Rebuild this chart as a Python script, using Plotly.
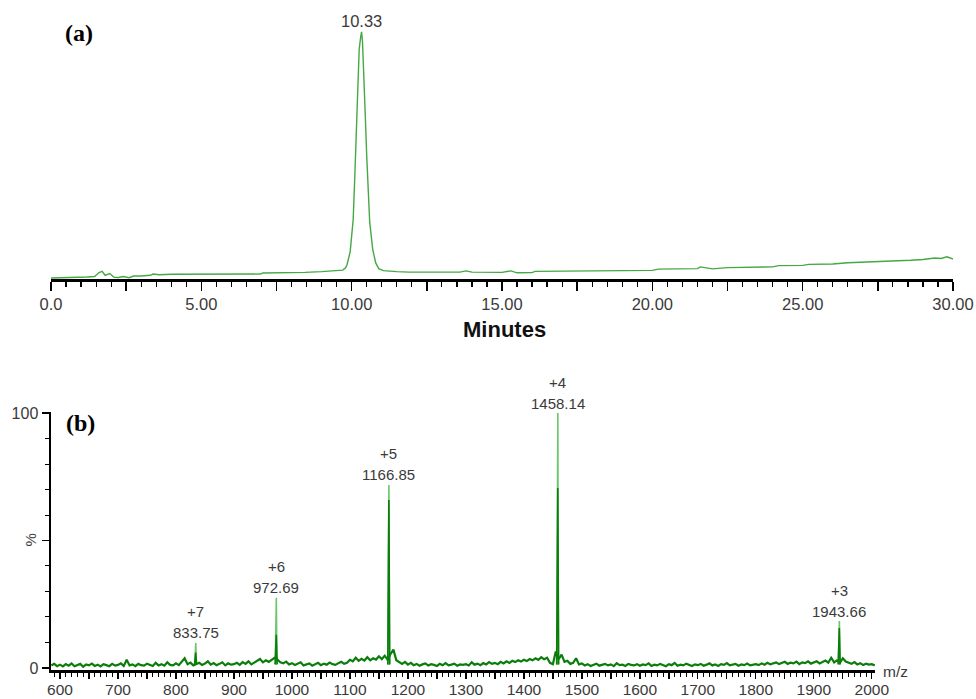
import plotly.graph_objects as go

# ---------------- (a) chromatogram ----------------
time_min = [0.0, 0.5, 1.0, 1.2, 1.45, 1.6, 1.7, 1.8, 1.95, 2.1, 2.25, 2.4, 2.6, 2.75, 3.0, 3.3, 3.4, 3.6,
            4.0, 5.0, 6.0, 6.95, 7.05, 8.0, 8.45, 9.0, 9.5, 9.7, 9.8, 9.85, 9.95, 10.05, 10.1, 10.15,
            10.2, 10.25, 10.3, 10.33, 10.36, 10.4, 10.45, 10.5, 10.55, 10.6, 10.7, 10.8, 10.9, 11.05,
            11.5, 11.9, 13.0, 13.6, 13.8, 14.0, 15.0, 15.3, 15.5, 16.0, 16.1, 17.0, 18.5, 20.0,
            20.2, 21.0, 21.5, 21.6, 22.0, 22.5, 23.0, 24.0, 24.2, 25.0, 25.2, 26.0, 26.5, 27.0,
            27.6, 28.0, 28.6, 29.0, 29.4, 29.6, 29.8, 30.0]
intensity = [0.4, 0.5, 0.6, 0.8, 1.0, 2.6, 3.1, 1.5, 2.2, 0.7, 0.6, 1.0, 0.5, 1.2, 1.2, 1.5, 2.0, 1.7,
             1.9, 1.9, 2.0, 2.0, 2.4, 2.5, 2.7, 3.0, 3.3, 3.6, 4.5, 6.0, 11.0, 24.0, 40.0, 60.0,
             80.0, 93.0, 98.0, 100.0, 96.0, 85.0, 67.0, 50.0, 35.0, 23.0, 12.0, 6.5, 4.2, 3.4,
             3.0, 2.8, 2.8, 2.8, 3.3, 2.8, 2.7, 3.3, 2.5, 2.6, 3.1, 3.2, 3.4, 3.5,
             4.0, 4.1, 4.2, 4.9, 4.1, 4.6, 4.7, 4.9, 5.4, 5.5, 5.9, 6.1, 6.6, 6.8,
             7.0, 7.4, 7.6, 7.9, 8.5, 8.3, 9.0, 8.1]
apex_time = 10.33
apex_label = "10.33"
x_ticks_a = [0, 2.5, 5, 7.5, 10, 12.5, 15, 17.5, 20, 22.5, 25, 27.5, 30]
x_text_a = ["0.0", "", "5.00", "", "10.00", "", "15.00", "", "20.00", "", "25.00", "", "30.00"]

# ---------------- (b) mass spectrum ----------------
mz_start = 585
mz_step = 5
noise_rows = [
    [1.0, 1.6, 0.7],
    [1.3, 0.6, 1.5, 0.9, 1.8, 0.7, 1.2, 1.6, 0.5, 1.4, 1.0, 1.7, 0.8, 1.3, 0.6, 1.5, 1.1, 0.7, 1.6, 0.9],
    [1.2, 1.8, 0.8, 3.2, 1.0, 1.4, 0.7, 1.6, 1.1, 0.9, 1.7, 1.3, 0.8, 2.0, 1.0, 1.5, 0.9, 2.2, 1.2, 1.0],
    [1.8, 1.1, 2.4, 3.8, 1.5, 2.1, 1.0, 1.4, 2.0, 1.2, 1.7, 2.6, 1.3, 1.9, 1.1, 1.6, 2.2, 1.0, 1.8, 1.3],
    [1.5, 2.0, 1.2, 2.3, 1.6, 2.6, 1.4, 2.1, 2.8, 3.5, 2.2, 3.0, 2.4, 3.2, 4.0, 3.3, 2.2, 1.8, 2.5, 1.4],
    [1.9, 1.2, 1.6, 2.2, 1.0, 1.5, 1.8, 0.9, 1.4, 2.0, 1.1, 1.7, 1.3, 2.1, 1.5, 1.2, 1.9, 2.4, 1.6, 2.0],
    [3.2, 2.6, 4.0, 2.8, 3.6, 2.9, 4.2, 3.0, 3.8, 3.3, 4.6, 3.5, 4.8, 3.2, 5.5, 7.2, 3.0, 2.2, 1.6, 2.4],
    [1.3, 2.0, 1.1, 1.6, 0.9, 1.4, 1.8, 1.0, 1.5, 1.2, 0.8, 1.6, 1.1, 1.9, 1.0, 1.3, 1.7, 0.9, 1.4, 1.2],
    [1.5, 1.0, 2.2, 1.3, 1.7, 1.1, 1.9, 1.4, 2.3, 1.6, 2.0, 1.5, 2.4, 1.8, 2.6, 2.0, 2.8, 2.3, 3.0, 2.5],
    [3.2, 2.7, 3.5, 3.0, 3.8, 3.2, 4.2, 3.4, 4.0, 2.0, 1.5, 6.5, 3.5, 5.2, 2.4, 2.8, 1.6, 2.0, 3.8, 1.4],
    [1.8, 1.0, 1.5, 0.8, 1.3, 1.7, 0.9, 1.2, 1.6, 1.0, 1.4, 0.7, 1.9, 1.1, 1.3, 0.8, 1.6, 1.2, 1.0, 1.5],
    [0.9, 1.4, 1.1, 1.8, 0.8, 1.3, 1.0, 1.6, 1.2, 0.7, 1.5, 1.1, 2.0, 0.9, 1.3, 1.0, 1.7, 1.2, 0.8, 1.4],
    [1.1, 1.6, 0.9, 1.3, 1.8, 1.0, 1.4, 0.8, 1.5, 1.2, 1.9, 1.0, 1.3, 1.6, 0.9, 1.4, 1.1, 1.7, 1.0, 1.3],
    [1.5, 1.1, 1.8, 1.3, 2.0, 1.4, 1.7, 2.2, 1.5, 1.9, 2.4, 1.6, 2.1, 1.8, 2.5, 1.5, 2.2, 1.9, 2.6, 1.7],
    [2.0, 2.6, 1.8, 2.3, 2.9, 2.1, 4.0, 2.2, 3.0, 2.0, 3.8, 2.5, 2.0, 1.6, 2.3, 1.4, 1.9, 1.2, 1.7, 1.3],
    [1.5, 1.0],
]
peak_mz = [833.75, 972.69, 1166.85, 1458.14, 1943.66]
peak_profile = [9.8, 27.5, 71.8, 100.0, 18.4]   # light green profile tops (%)
peak_centroid = [6.0, 13.0, 65.9, 70.6, 15.7]   # dark green tops (%)
peak_charge = ["+7", "+6", "+5", "+4", "+3"]
x_ticks_b = list(range(600, 2001, 50))
x_text_b = [str(v) if v % 100 == 0 else "" for v in x_ticks_b]
y_ticks_b = [0, 50, 100]
y_text_b = ["0", "", "100"]

noise = [v for row in noise_rows for v in row]
mz = [mz_start + mz_step * i for i in range(len(noise))]

# spike traces built from the peak lists
lx, ly, dx, dy = [], [], [], []
for m, hp, hc in zip(peak_mz, peak_profile, peak_centroid):
    lx += [m - 1.4, m - 0.4, m + 0.4, m + 1.4, None]
    ly += [1.2, hp, hp, 1.2, None]
    dx += [m - 1.6, m + 0.3, m + 1.8, None]
    dy += [1.5, hc, 1.5, None]

W, H = 976, 699
def px(x):
    return x / W
def py(y):
    return 1 - y / H

GREEN_A = "#45a845"
DARK = "#0b7d0b"
LIGHT = "#6cc66c"
TXT = "#3a3a3a"
FONT = "Liberation Sans, Arial, sans-serif"
SERIF = "Liberation Serif, Times New Roman, serif"

fig = go.Figure()
fig.add_trace(go.Scatter(x=time_min, y=intensity, mode="lines",
                         line=dict(color=GREEN_A, width=1.4), xaxis="x", yaxis="y",
                         showlegend=False, hoverinfo="skip"))
fig.add_trace(go.Scatter(x=lx, y=ly, mode="lines", line=dict(color=LIGHT, width=1.6),
                         xaxis="x2", yaxis="y2", showlegend=False, hoverinfo="skip"))
fig.add_trace(go.Scatter(x=mz, y=noise, mode="lines", line=dict(color=DARK, width=2.2),
                         xaxis="x2", yaxis="y2", showlegend=False, hoverinfo="skip"))
fig.add_trace(go.Scatter(x=dx, y=dy, mode="lines", line=dict(color=DARK, width=1.6),
                         xaxis="x2", yaxis="y2", showlegend=False, hoverinfo="skip"))

fig.update_layout(
    width=W, height=H,
    margin=dict(l=0, r=0, t=0, b=0, autoexpand=False),
    paper_bgcolor="white", plot_bgcolor="white",
    xaxis=dict(domain=[px(51), px(953)], range=[0, 30], anchor="y", automargin=False,
               showline=True, linecolor="black", linewidth=2.5, showgrid=False, zeroline=False,
               ticks="outside", tickcolor="black", tickwidth=1.5, ticklen=9,
               tickvals=x_ticks_a, ticktext=x_text_a, ticklabelstandoff=0,
               tickfont=dict(family=FONT, size=16.5, color=TXT),
               minor=dict(ticks="outside", dtick=0.5, tick0=0, ticklen=5, tickcolor="black",
                          tickwidth=1.2, showgrid=False)),
    yaxis=dict(domain=[py(279), py(24)], range=[0, 103.2], anchor="x", visible=False,
               automargin=False),
    xaxis2=dict(domain=[px(51), px(875)], range=[584.5, 2005.5], anchor="y2", automargin=False,
                showline=True, linecolor="black", linewidth=2.5, showgrid=False, zeroline=False,
                ticks="outside", tickcolor="black", tickwidth=1.3, ticklen=6,
                tickvals=x_ticks_b, ticktext=x_text_b, ticklabelstandoff=-2,
                tickfont=dict(family=FONT, size=15.5, color=TXT),
                minor=dict(ticks="outside", dtick=10, tick0=0, ticklen=4, tickcolor="black",
                           tickwidth=1, showgrid=False)),
    yaxis2=dict(domain=[py(670), py(412)], range=[-0.8, 100.4], anchor="x2", automargin=False,
                showline=True, linecolor="black", linewidth=2.5, showgrid=False, zeroline=False,
                ticks="outside", tickcolor="black", tickwidth=1.3, ticklen=7,
                tickvals=y_ticks_b, ticktext=y_text_b, ticklabelstandoff=0,
                tickfont=dict(family=FONT, size=16, color=TXT),
                minor=dict(ticks="outside", dtick=10, tick0=0, ticklen=4, tickcolor="black",
                           tickwidth=1, showgrid=False)),
)

C = dict(xanchor="center", yanchor="middle", showarrow=False)
peakfont = dict(family=FONT, size=15, color=TXT)
ann = []
# panel labels
ann.append(dict(text="<b>(a)</b>", x=px(79), y=py(33), xref="paper", yref="paper", **C,
                font=dict(family=SERIF, size=24, color="black")))
ann.append(dict(text="<b>(b)</b>", x=px(80), y=py(423), xref="paper", yref="paper", **C,
                font=dict(family=SERIF, size=24, color="black")))
# axis titles
ann.append(dict(text="<b>Minutes</b>", x=px(504), y=py(329), xref="paper", yref="paper", **C,
                font=dict(family=FONT, size=22, color="#111")))
ann.append(dict(text="m/z", x=px(895), y=py(671), xref="paper", yref="paper", **C,
                font=dict(family=FONT, size=15.5, color=TXT)))
ann.append(dict(text="%", x=px(30), y=50, xref="paper", yref="y2", textangle=-90, **C,
                font=dict(family=FONT, size=15, color=TXT)))
# apex label
ann.append(dict(text=apex_label, x=apex_time, y=100.0, xref="x", yref="y", yshift=11, **C,
                font=dict(family=FONT, size=16.5, color=TXT)))
# peak labels
for m, hp, ch in zip(peak_mz, peak_profile, peak_charge):
    ann.append(dict(text=f"{m:.2f}", x=m, y=hp, xref="x2", yref="y2", yshift=10, **C,
                    font=peakfont))
    ann.append(dict(text=ch, x=m, y=hp, xref="x2", yref="y2", yshift=31, **C,
                    font=peakfont))
fig.update_layout(annotations=ann)

fig.write_html("out.html",
               config={"displayModeBar": False, "staticPlot": True},
               post_script="document.body.style.margin='0';"
                           "document.body.style.overflow='hidden';")
